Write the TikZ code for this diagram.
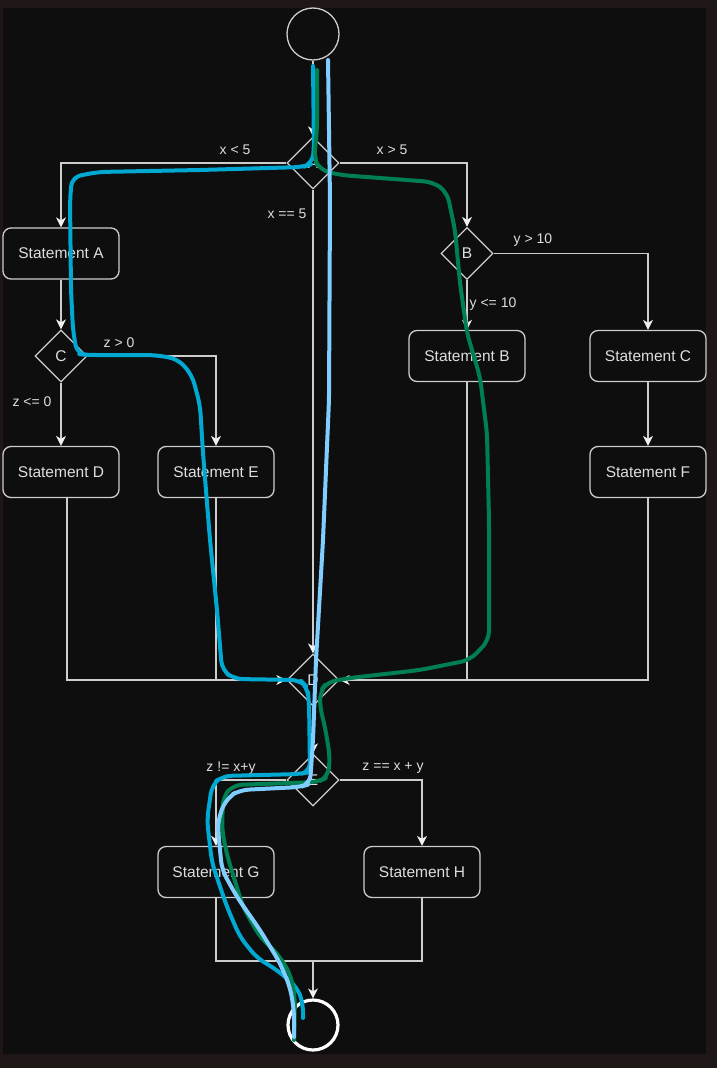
\documentclass[tikz,border=0pt]{standalone}
\usepackage{fontspec}
\setmainfont{Liberation Sans}
\usetikzlibrary{shapes.geometric,arrows.meta}

\definecolor{bgout}{RGB}{30,23,21}
\definecolor{bgin}{RGB}{14,14,14}
\definecolor{linec}{RGB}{205,205,205}
\definecolor{arrc}{RGB}{240,240,240}
\definecolor{txtc}{RGB}{222,222,222}
\definecolor{tracecyan}{RGB}{0,168,210}
\definecolor{tracesky}{RGB}{128,206,255}
\definecolor{tracegreen}{RGB}{0,128,82}

\tikzset{
  stmt/.style={draw=linec, line width=1.3pt, rounded corners=8pt, minimum width=116pt,
    minimum height=51pt, text=txtc, font=\fontsize{15.5}{18}\selectfont},
  dec/.style={diamond, draw=linec, line width=1.3pt, minimum width=52pt, minimum height=52pt,
    inner sep=0pt, text=txtc, font=\fontsize{15.5}{18}\selectfont},
  flow/.style={draw=linec, line width=1.3pt},
  arr/.style={flow, -{Stealth[length=10pt,width=10pt,inset=3pt,color=arrc]}},
  lbl/.style={text=txtc, font=\fontsize{14}{16}\selectfont, inner sep=0pt},
  trace/.style={line width=4pt, rounded corners=9pt, line cap=round, line join=round},
}

\begin{document}
\begin{tikzpicture}[x=1pt, y=-1pt]

    % background
    \fill[bgout] (0,0) rectangle (717,1068);
    \fill[bgin] (3,8) rectangle (706,1054);

    % nodes
    \node[circle, draw=linec, line width=1.3pt, minimum size=52pt] (start) at (313,34) {};
    \node[dec] (dA) at (313,163) {A};
    \node[stmt] (sA) at (61,253.5) {Statement A};
    \node[dec] (dC) at (61,356) {C};
    \node[stmt] (sD) at (61,472) {Statement D};
    \node[stmt] (sE) at (216,472) {Statement E};
    \node[dec] (dB) at (467,253.5) {B};
    \node[stmt] (sB) at (467,356) {Statement B};
    \node[stmt] (sC) at (648,356) {Statement C};
    \node[stmt] (sF) at (648,472) {Statement F};
    \node[dec] (dM) at (313,680) {D};
    \node[dec] (dE) at (313,780) {E};
    \node[stmt] (sG) at (216,872) {Statement G};
    \node[stmt] (sH) at (422,872) {Statement H};
    \node[circle, draw=white, line width=3.2pt, minimum size=50pt] (stop) at (313,1025) {};
    \coordinate (jn) at (313,961);

    % edges
    \draw[arr] (start.south) -- (dA.north);
    \draw[arr] (dA.west) -| (sA.north);
    \draw[arr] (dA.east) -| (dB.north);
    \draw[arr] (dA.south) -- (dM.north);
    \draw[arr] (sA.south) -- (dC.north);
    \draw[arr] (dC.east) -| (sE.north);
    \draw[arr] (dC.south) -- (sD.north);
    \draw[arr] (dB.east) -| (sC.north);
    \draw[arr] (dB.south) -- (sB.north);
    \draw[arr] (sC.south) -- (sF.north);

    %% merge
    \draw[arr] ([xshift=6pt]sD.south) |- (dM.west);
    \draw[flow] (sE.south) -- (sE.south |- dM.west);
    \draw[arr] (sB.south) |- (dM.east);
    \draw[flow] (sF.south) |- (sB.south |- dM.east);
    \draw[arr] (dM.south) -- (dE.north);
    \draw[arr] (dE.west) -| (sG.north);
    \draw[arr] (dE.east) -| (sH.north);
    \draw[flow] (sG.south) |- (jn) -| (sH.south);
    \draw[arr] (jn) -- (stop.north);

    % labels
    \node[lbl] (lxlt) at (235,150) {x < 5};
    \node[lbl] (lxgt) at (392,150) {x > 5};
    \node[lbl] (lxeq) at (287,214) {x == 5};
    \node[lbl] (lygt) at (533,240) {y > 10};
    \node[lbl] (lyle) at (493,304) {y <= 10};
    \node[lbl] (lzgt) at (119,343) {z > 0};
    \node[lbl] (lzle) at (32,402) {z <= 0};
    \node[lbl] (lzne) at (231,768) {z != x+y};
    \node[lbl] (lzeq) at (393,768) {z == x + y};

    % traces
    \draw[trace, tracecyan] (313,66) -- (314,150) -- (312,164) -- (303,167) -- (200,170)
      -- (98,172) -- (72,177) -- (70,200) -- (71,290) -- (73,330) -- (77,354) -- (88,355)
      -- (155,355) -- (178,359) -- (192,375) -- (200,405) -- (203,453) -- (210,540)
      -- (217,610) -- (222,670) -- (234,679) -- (300,680) -- (307,687) -- (309,700)
      -- (310,772) -- (300,774) -- (222,776) -- (212,785) -- (207,820) -- (212,863)
      -- (227,907) -- (240,937) -- (257,958) -- (277,970) -- (297,987) -- (303,1003)
      -- (303,1018);
    \draw[trace, tracegreen] (317,70) -- (317,130) -- (314,158) -- (320,170) -- (340,175)
      -- (433,182) -- (447,192) -- (455,230) -- (460,283) -- (467,333) -- (480,377)
      -- (487,433) -- (489,520) -- (489,640) -- (470,660) -- (420,670) -- (350,678)
      -- (327,682) -- (320,692) -- (320,707) -- (325,727) -- (330,757) -- (328,777)
      -- (318,782) -- (233,785) -- (223,797) -- (222,830) -- (227,855) -- (243,907)
      -- (260,937) -- (277,953) -- (290,973) -- (295,997) -- (294,1040);
    \draw[trace, tracesky] (328,60) -- (330,200) -- (329,400) -- (323,540) -- (316,660)
      -- (313,740) -- (310,784) -- (300,787) -- (240,790) -- (228,797) -- (219,815)
      -- (218,830) -- (222,870) -- (237,897) -- (260,930) -- (280,963) -- (290,987)
      -- (294,1010) -- (294,1037);

\end{tikzpicture}
\end{document}
